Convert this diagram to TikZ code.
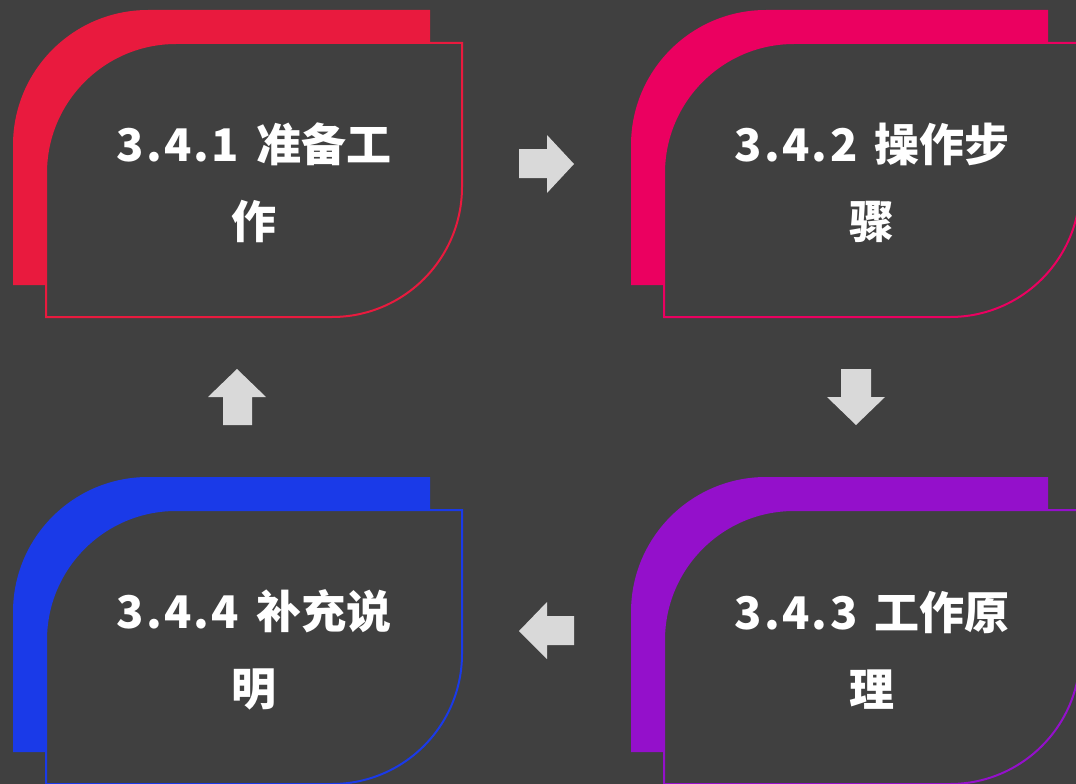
\documentclass[tikz,border=0pt]{standalone}
\usepackage{fontspec}
\newfontfamily\cjk{Noto Sans CJK SC}
\definecolor{bg}{HTML}{404040}
\definecolor{cA}{HTML}{E91A3E}
\definecolor{cB}{HTML}{EB0060}
\definecolor{cC}{HTML}{9410CB}
\definecolor{cD}{HTML}{1A3AE8}
\definecolor{arr}{HTML}{D9D9D9}
\tikzset{
  backshape/.style={fill=#1, draw=none},
  frontshape/.style={fill=bg, draw=#1, line width=2pt},
  cardtext/.style={text=white, font=\cjk\bfseries\fontsize{45}{77}\selectfont, align=center, inner sep=0pt},
  blockarrow/.style={fill=arr, draw=none}
}
\newcommand{\mycard}[3]{%
  \begin{scope}[shift={(#1,#2)}]
    \path[backshape=#3] (0,275) -- (0,135) arc[start angle=180,end angle=270,radius=135] -- (417,0) -- (417,145) arc[start angle=0,end angle=90,radius=130] -- cycle;
    \path[frontshape=#3] (33,307) -- (33,163) arc[start angle=180,end angle=270,radius=130] -- (449,33) -- (449,177) arc[start angle=0,end angle=90,radius=130] -- cycle;
  \end{scope}}
\newcommand{\num}[1]{{\addfontfeature{LetterSpace=5}#1}\hspace{17pt}}
\begin{document}
\begin{tikzpicture}[x=1pt,y=-1pt]
\fill[bg] (0,0) rectangle (1076,784);
\useasboundingbox (0,0) rectangle (1076,784);
\clip (0,0) rectangle (1076,784);
\mycard{13}{10}{cA}
\mycard{631}{10}{cB}
\mycard{631}{477}{cC}
\mycard{13}{477}{cD}
\node[cardtext] (t1) at (254,183) {\num{3.4.1}准备工\\作};
\node[cardtext] (t2) at (872,183) {\num{3.4.2}操作步\\骤};
\node[cardtext] (t3) at (872,650) {\num{3.4.3}工作原\\理};
\node[cardtext] (t4) at (254,650) {\num{3.4.4}补充说\\明};
\path[blockarrow] (519,149) -- (547,149) -- (547,135) -- (574,164) -- (547,193) -- (547,178) -- (519,178) -- cycle;
\path[blockarrow] (841,369) -- (871,369) -- (871,397) -- (885,397) -- (856,425) -- (827,397) -- (841,397) -- cycle;
\path[blockarrow] (574,616) -- (547,616) -- (547,602) -- (519,631) -- (547,659) -- (547,645) -- (574,645) -- cycle;
\path[blockarrow] (223,425) -- (223,397) -- (208,397) -- (237,369) -- (266,397) -- (252,397) -- (252,425) -- cycle;
\end{tikzpicture}
\end{document}
